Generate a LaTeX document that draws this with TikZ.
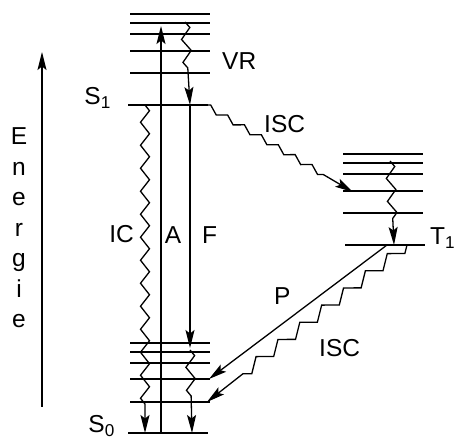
\documentclass[tikz,border=0pt]{standalone}
\usepackage{fontspec}
\setmainfont{Liberation Sans}
\usetikzlibrary{arrows.meta, decorations.pathmorphing}
\tikzstyle{levelline} = [line width=1.5pt]
\tikzstyle{arrow} = [line width=1.3pt, -{Stealth[length=18pt,width=9pt,inset=3.5pt]}]
\tikzstyle{wavy} = [arrow, decorate, decoration={zigzag, segment length=23pt, amplitude=4.5pt, post length=26pt}]
\tikzstyle{stairdown} = [arrow, decorate, decoration={zigzag, segment length=19.6pt, amplitude=2.9pt, post length=26pt}]
\tikzstyle{stairup} = [arrow, decorate, decoration={zigzag, segment length=27.8pt, amplitude=5.4pt, post length=32pt}]
\tikzstyle{txt} = [font=\fontsize{24.5}{30.5}\selectfont, inner sep=0pt]

\begin{document}
\begin{tikzpicture}[x=1pt, y=1pt]
    \useasboundingbox (0,0) rectangle (456,441);

    % levels
    \foreach \y in {368,390,407,418,427} \draw [levelline] (130,\y) -- (210,\y);
    \draw [levelline] (128,336) -- (208,336);
    \foreach \y in {39,62,78,89,98} \draw [levelline] (130,\y) -- (210,\y);
    \draw [levelline] (128,8) -- (208,8);
    \foreach \y in {228,250,267,278,287} \draw [levelline] (343,\y) -- (423,\y);
    \draw [levelline] (345,196) -- (425,196);

    % end points
    \coordinate (ebot) at (42,34);
    \coordinate (etop) at (42,389);
    \coordinate (absfrom) at (161,8);
    \coordinate (absto) at (161,415);
    \coordinate (vrfrom) at (185,419);
    \coordinate (vrto) at (190,336);
    \coordinate (flto) at (190,93);
    \coordinate (icfrom) at (145,336);
    \coordinate (icto) at (145,8);
    \coordinate (vrzfrom) at (190,91);
    \coordinate (vrzto) at (192,8);
    \coordinate (iscfrom) at (205,336);
    \coordinate (iscto) at (353,249);
    \coordinate (vrtfrom) at (390,280);
    \coordinate (vrtto) at (394,196);
    \coordinate (phfrom) at (387,196);
    \coordinate (phto) at (209,62);
    \coordinate (isctfrom) at (407,196);
    \coordinate (isctto) at (207,39);

    % labels
    \node (energie) [txt, align=center] at (19,213) {E\\n\\e\\r\\g\\i\\e};
    \node (sone) [txt, anchor=base east] at (111,336) {S\textsubscript{1}};
    \node (szero) [txt, anchor=base east] at (115,8) {S\textsubscript{0}};
    \node (tone) [txt, anchor=base west] at (430,196) {T\textsubscript{1}};
    \node (vr) [txt, anchor=base west] at (222,371) {VR};
    \node (iscup) [txt, anchor=base west] at (264,308) {ISC};
    \node (ic) [txt, anchor=base east] at (134,198) {IC};
    \node (abs) [txt, anchor=base] at (173,197) {A};
    \node (fl) [txt, anchor=base west] at (202,197) {F};
    \node (ph) [txt, anchor=base west] at (274,136) {P};
    \node (isclow) [txt, anchor=base west] at (319,84) {ISC};

    % transitions
    \draw [arrow] (ebot) -- (etop);
    \draw [arrow] (absfrom) -- (absto);
    \draw [wavy] (vrfrom) -- (vrto);
    \draw [arrow] (vrto) -- (flto);
    \draw [wavy] (icfrom) -- (icto);
    \draw [wavy] (vrzfrom) -- (vrzto);
    \draw [stairdown] (iscfrom) -- (iscto);
    \draw [wavy] (vrtfrom) -- (vrtto);
    \draw [arrow] (phfrom) -- (phto);
    \draw [stairup] (isctfrom) -- (isctto);
\end{tikzpicture}
\end{document}
